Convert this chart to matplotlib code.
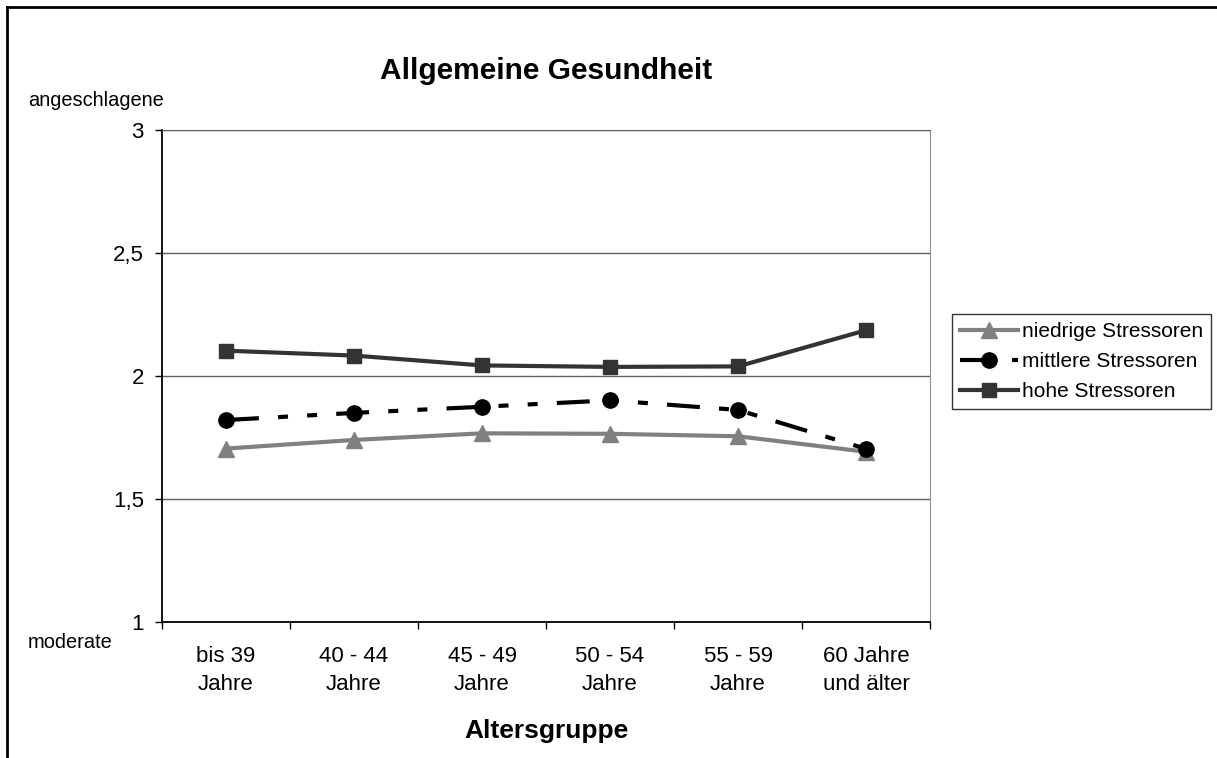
import matplotlib.pyplot as plt
from matplotlib.lines import Line2D

plt.rcParams['font.family'] = ['Liberation Sans', 'DejaVu Sans']

# Altersgruppen und Mittelwerte je Stressorengruppe
groups = ['bis 39\nJahre', '40 - 44\nJahre', '45 - 49\nJahre',
          '50 - 54\nJahre', '55 - 59\nJahre', '60 Jahre\nund älter']
niedrig = [1.705, 1.740, 1.767, 1.765, 1.755, 1.692]
mittel = [1.821, 1.850, 1.875, 1.901, 1.862, 1.704]
hoch = [2.103, 2.083, 2.043, 2.037, 2.039, 2.186]
yticks = [1, 1.5, 2, 2.5, 3]
ytick_labels = ['1', '1,5', '2', '2,5', '3']

W, H = 1217, 758
fig = plt.figure(figsize=(W / 100, H / 100), dpi=100)
fig.patch.set_facecolor('white')

# Rahmen oben und links
fig.add_artist(Line2D([7 / W, 7 / W], [0, 1 - 7 / H], transform=fig.transFigure,
                      color='black', lw=2))
fig.add_artist(Line2D([7 / W, 1], [1 - 7 / H, 1 - 7 / H], transform=fig.transFigure,
                      color='black', lw=2))

ax = fig.add_axes([162 / W, 1 - 622 / H, (930 - 162) / W, (622 - 130) / H])
x = list(range(len(groups)))

ax.plot(x, niedrig, color='#808080', lw=3, marker='^', markersize=12,
        label='niedrige Stressoren', zorder=3)
ax.plot(x, mittel, color='black', lw=3, marker='o', markersize=11,
        linestyle=(0, (7.9, 4.6, 2.4, 4.6, 2.4, 4.6)),
        label='mittlere Stressoren', zorder=4)
ax.plot(x, hoch, color='#333333', lw=3, marker='s', markersize=9.5,
        label='hohe Stressoren', zorder=3)

ax.set_xlim(-0.5, len(groups) - 0.5)
ax.set_ylim(1, 3)
ax.set_yticks(yticks)
ax.set_yticklabels(ytick_labels)
ax.set_xticks(x)
ax.set_xticklabels(groups, linespacing=1.45)
ax.set_xticks([i - 0.5 for i in range(len(groups) + 1)], minor=True)

ax.tick_params(axis='x', which='major', length=0, pad=17, labelsize=16)
ax.tick_params(axis='x', which='minor', length=5, width=1, direction='out')
ax.tick_params(axis='y', length=5, width=1, direction='out', pad=8, labelsize=16)

ax.grid(axis='y', color='#606060', lw=1)
ax.set_axisbelow(True)
for side in ['left', 'bottom']:
    ax.spines[side].set_color('black')
    ax.spines[side].set_linewidth(1.3)
ax.spines['top'].set_color('#606060')
ax.spines['right'].set_color('#909090')

fig.text(546 / W, 1 - 71 / H, 'Allgemeine Gesundheit', ha='center', va='center',
         fontsize=21.5, fontweight='bold')
fig.text(546 / W, 1 - 731 / H, 'Altersgruppe', ha='center', va='center',
         fontsize=19, fontweight='bold')
fig.text(28 / W, 1 - 100 / H, 'angeschlagene', ha='left', va='center', fontsize=14.4)
fig.text(28 / W, 1 - 642 / H, 'moderate', ha='left', va='center', fontsize=14.4)

leg = ax.legend(loc='upper left', bbox_to_anchor=(952 / W, 1 - 314 / H),
                bbox_transform=fig.transFigure, fontsize=15, frameon=True,
                fancybox=False, edgecolor='black', handlelength=2.8,
                handletextpad=0.2, labelspacing=0.54, borderpad=0.38,
                borderaxespad=0)
leg.get_frame().set_linewidth(1)

fig.savefig('out.png', dpi=100)
